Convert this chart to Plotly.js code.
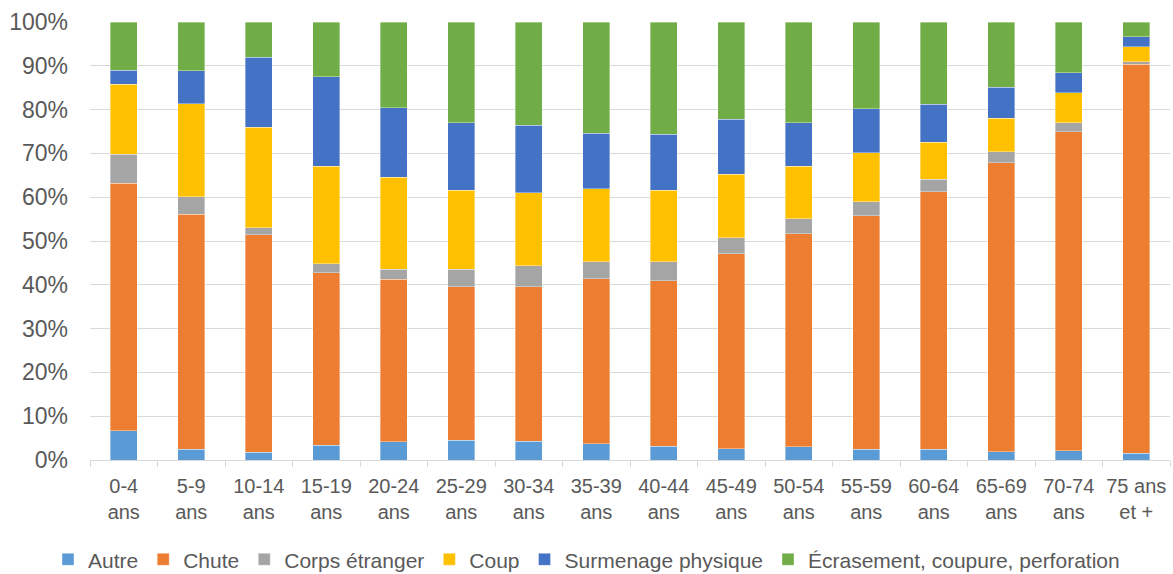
<!DOCTYPE html>
<html>
<head>
<meta charset="utf-8">
<script src="https://cdn.plot.ly/plotly-3.0.1.min.js"></script>
<style>
  html, body { margin: 0; padding: 0; background: #ffffff; }
  #chart { width: 1173px; height: 574px; }
</style>
</head>
<body>
<div id="chart"></div>
<script>
const categories = ["0-4<br>ans", "5-9<br>ans", "10-14<br>ans", "15-19<br>ans", "20-24<br>ans", "25-29<br>ans", "30-34<br>ans", "35-39<br>ans", "40-44<br>ans", "45-49<br>ans", "50-54<br>ans", "55-59<br>ans", "60-64<br>ans", "65-69<br>ans", "70-74<br>ans", "75 ans<br>et +"];

const autre      = [6.7, 2.4, 1.8, 3.4, 4.2, 4.5, 4.3, 3.7, 3.1, 2.6, 3.0, 2.4, 2.5, 1.9, 2.1, 1.5];
const chute      = [56.5, 53.7, 49.6, 39.4, 37.1, 35.1, 35.2, 37.7, 37.8, 44.5, 48.7, 53.4, 58.8, 66.0, 72.9, 88.9];
const corps      = [6.6, 4.0, 1.6, 2.0, 2.2, 4.0, 4.9, 3.9, 4.4, 3.6, 3.4, 3.2, 2.8, 2.5, 2.0, 0.5];
const coup       = [16.0, 21.2, 23.0, 22.3, 21.0, 18.0, 16.6, 16.6, 16.3, 14.5, 12.0, 11.1, 8.5, 7.6, 6.8, 3.5];
const surmenage  = [3.2, 7.6, 15.9, 20.4, 15.9, 15.4, 15.4, 12.7, 12.8, 12.6, 9.9, 10.1, 8.6, 7.1, 4.6, 2.2];
const ecrasement = [11.0, 11.1, 8.1, 12.5, 19.6, 23.0, 23.6, 25.4, 25.6, 22.2, 23.0, 19.8, 18.8, 14.9, 11.6, 3.4];

const seriesNames = ["Autre", "Chute", "Corps étranger", "Coup", "Surmenage physique", "Écrasement, coupure, perforation"];
const seriesValues = [autre, chute, corps, coup, surmenage, ecrasement];
const seriesColors = ["#5B9BD5", "#ED7D31", "#A5A5A5", "#FFC000", "#4472C4", "#70AD47"];

const traces = seriesNames.map((name, i) => ({
  type: "bar",
  name: name,
  x: categories,
  y: seriesValues[i],
  marker: { color: seriesColors[i], line: { color: "rgba(255,255,255,0.6)", width: 0.6 } },
  hoverinfo: "x+y+name"
}));

const layout = {
  width: 1173,
  height: 574,
  barmode: "stack",
  bargap: 0.6,
  paper_bgcolor: "#ffffff",
  plot_bgcolor: "#ffffff",
  font: { family: "Liberation Sans, Arial, sans-serif", color: "#595959", size: 20 },
  margin: { l: 90, r: 3, t: 22, b: 114 },
  showlegend: true,
  legend: {
    orientation: "h",
    x: 0.5, xanchor: "center", xref: "container",
    y: 0.025, yanchor: "middle", yref: "container",
    font: { family: "Liberation Sans, Arial, sans-serif", size: 21, color: "#595959" },
    traceorder: "normal",
    itemwidth: 30,
    tracegroupgap: 0,
    borderwidth: 0,
    itemclick: false
  },
  xaxis: {
    type: "category",
    showgrid: false,
    showline: true,
    linecolor: "#d9d9d9",
    linewidth: 1,
    ticks: "outside",
    tickson: "boundaries",
    ticklen: 6,
    tickcolor: "#d9d9d9",
    tickangle: 0,
    tickfont: { size: 20, color: "#595959" },
    ticklabelstandoff: 8,
    fixedrange: true
  },
  yaxis: {
    range: [0, 100],
    dtick: 10,
    ticksuffix: "%",
    showgrid: true,
    gridcolor: "#d9d9d9",
    gridwidth: 1,
    zeroline: false,
    showline: false,
    ticks: "",
    tickfont: { size: 23, color: "#595959" },
    ticklabelstandoff: 21,
    fixedrange: true
  }
};

Plotly.newPlot("chart", traces, layout, { displayModeBar: false, staticPlot: true });
</script>
</body>
</html>
